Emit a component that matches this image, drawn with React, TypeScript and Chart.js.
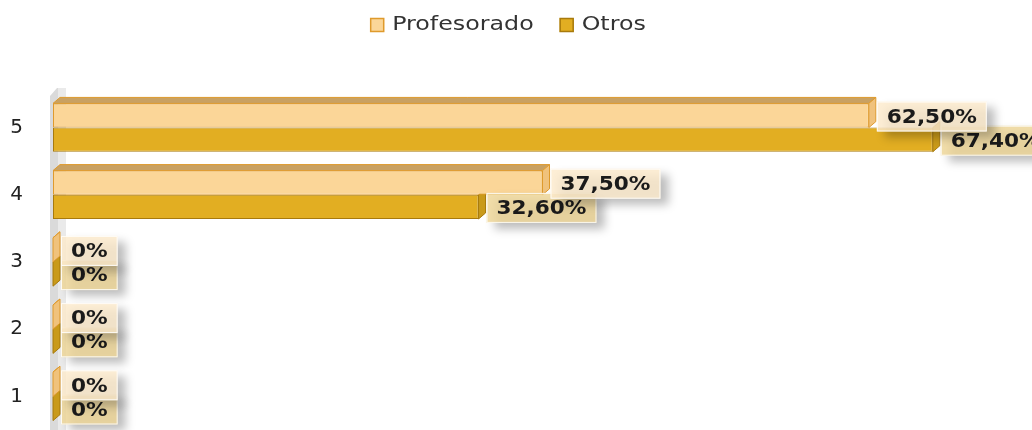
import React, { useEffect, useRef } from 'react';
import { Chart, registerables } from 'chart.js';

Chart.register(...registerables);

const categories = ['5', '4', '3', '2', '1'];
const seriesNames = ['Profesorado', 'Otros'];
const profesorado = [62.5, 37.5, 0, 0, 0];
const otros = [67.4, 32.6, 0, 0, 0];
const xMax = 75;

const fmt = (v: number) => (v === 0 ? '0%' : v.toFixed(2).replace('.', ',') + '%');

const STY = [
  { front: '#FBD698', border: '#DF9A2C', top: '#C9A162', side: '#F0C27C', box: 'rgba(252,234,204,0.82)' },
  { front: '#E2AE22', border: '#A87A0C', top: '#B88A14', side: '#C99A1A', box: 'rgba(238,214,150,0.82)' },
];
const DX = 7;
const DY = 6;

function poly(ctx: CanvasRenderingContext2D, pts: number[][], fill: string, stroke?: string) {
  ctx.beginPath();
  ctx.moveTo(pts[0][0], pts[0][1]);
  for (let i = 1; i < pts.length; i++) ctx.lineTo(pts[i][0], pts[i][1]);
  ctx.closePath();
  ctx.fillStyle = fill;
  ctx.fill();
  if (stroke) {
    ctx.strokeStyle = stroke;
    ctx.lineWidth = 1;
    ctx.stroke();
  }
}

const threeD = {
  id: 'threeD',
  beforeDatasetsDraw(chart: any) {
    const ctx = chart.ctx as CanvasRenderingContext2D;
    const a = chart.chartArea;
    ctx.save();
    poly(ctx, [[a.left - 3, a.top + 2], [a.left + 4, a.top - 6], [a.left + 13, a.top - 6], [a.left + 13, a.bottom], [a.left - 3, a.bottom]], '#DADADA');
    poly(ctx, [[a.left + 5, a.top - 6], [a.left + 13, a.top - 6], [a.left + 13, a.bottom], [a.left + 5, a.bottom]], '#EAEAEA');
    const meta = chart.getDatasetMeta(1);
    meta.data.forEach((el: any) => {
      const p = el.getProps(['x', 'y', 'base', 'height'], true);
      const t = p.y - p.height / 2;
      const b = p.y + p.height / 2;
      poly(ctx, [[p.x, t], [p.x + DX, t - DY], [p.x + DX, b - DY], [p.x, b]], STY[1].side, STY[1].border);
    });
    ctx.restore();
  },
  afterDatasetsDraw(chart: any) {
    const ctx = chart.ctx as CanvasRenderingContext2D;
    ctx.save();
    const meta = chart.getDatasetMeta(0);
    meta.data.forEach((el: any) => {
      const p = el.getProps(['x', 'y', 'base', 'height'], true);
      const t = p.y - p.height / 2;
      const b = p.y + p.height / 2;
      poly(ctx, [[p.base, t], [p.base + DX, t - DY], [p.x + DX, t - DY], [p.x, t]], STY[0].top, STY[0].border);
      poly(ctx, [[p.x, t], [p.x + DX, t - DY], [p.x + DX, b - DY], [p.x, b]], STY[0].side, STY[0].border);
    });
    const scaleX = 1.08;
    ctx.font = 'bold 20px "DejaVu Sans"';
    ctx.textBaseline = 'middle';
    ctx.textAlign = 'left';
    [1, 0].forEach((di) => {
      const m = chart.getDatasetMeta(di);
      const vals = chart.data.datasets[di].data as number[];
      m.data.forEach((el: any, i: number) => {
        const p = el.getProps(['x', 'y', 'base', 'height'], true);
        const txt = fmt(vals[i]);
        const w = ctx.measureText(txt).width * scaleX;
        const bx = p.x + 8;
        const by = p.y - 14;
        const bw = w + 20;
        const bh = 30;
        ctx.save();
        ctx.shadowColor = 'rgba(0,0,0,0.32)';
        ctx.shadowBlur = 10;
        ctx.shadowOffsetX = 8;
        ctx.shadowOffsetY = 6;
        ctx.fillStyle = STY[di].box;
        ctx.fillRect(bx, by, bw, bh);
        ctx.restore();
        ctx.strokeStyle = 'rgba(255,255,255,0.85)';
        ctx.lineWidth = 1;
        ctx.strokeRect(bx + 0.5, by + 0.5, bw - 1, bh - 1);
        ctx.save();
        ctx.translate(bx + 10, p.y + 2);
        ctx.scale(scaleX, 1);
        ctx.fillStyle = '#1a1a1a';
        ctx.fillText(txt, 0, 0);
        ctx.restore();
      });
    });
    ctx.restore();
  },
  afterDraw(chart: any) {
    const ctx = chart.ctx as CanvasRenderingContext2D;
    ctx.save();
    const sx = 1.25;
    ctx.font = '19px "DejaVu Sans"';
    ctx.textBaseline = 'middle';
    ctx.textAlign = 'left';
    const widths = seriesNames.map((n) => ctx.measureText(n).width * sx);
    const box = 14;
    const gap = 8;
    const itemGap = 26;
    const total = widths.reduce((s, w) => s + box + gap + w, 0) + itemGap * (seriesNames.length - 1);
    let x = chart.width / 2 - total / 2 - 8;
    const cy = 25;
    seriesNames.forEach((n, i) => {
      ctx.fillStyle = STY[i].front;
      ctx.fillRect(x, cy - box / 2, box, box);
      ctx.strokeStyle = STY[i].border;
      ctx.lineWidth = 1.5;
      ctx.strokeRect(x + 0.5, cy - box / 2 + 0.5, box - 1, box - 1);
      x += box + gap;
      ctx.save();
      ctx.translate(x, cy);
      ctx.scale(sx, 1);
      ctx.fillStyle = '#333333';
      ctx.fillText(n, 0, 0);
      ctx.restore();
      x += widths[i] + itemGap;
    });
    ctx.restore();
  },
};

export default function App() {
  const ref = useRef<HTMLCanvasElement | null>(null);
  useEffect(() => {
    document.body.style.margin = '0';
    document.body.style.overflow = 'hidden';
    if (!ref.current) return;
    const chart = new Chart(ref.current, {
      type: 'bar',
      data: {
        labels: categories,
        datasets: [
          {
            label: seriesNames[0],
            data: profesorado,
            backgroundColor: STY[0].front,
            borderColor: STY[0].border,
            borderWidth: 1,
            borderSkipped: false,
          },
          {
            label: seriesNames[1],
            data: otros,
            backgroundColor: STY[1].front,
            borderColor: STY[1].border,
            borderWidth: 1,
            borderSkipped: false,
          },
        ],
      },
      options: {
        indexAxis: 'y',
        animation: false,
        responsive: false,
        maintainAspectRatio: false,
        devicePixelRatio: 1,
        layout: { padding: { top: 94, right: 0, bottom: 0, left: 0 } },
        datasets: { bar: { categoryPercentage: 0.72, barPercentage: 1 } },
        plugins: { legend: { display: false }, tooltip: { enabled: false } },
        scales: {
          x: { display: false, min: 0, max: xMax },
          y: {
            grid: { display: false, drawTicks: false },
            border: { display: false },
            ticks: { color: '#222222', padding: 30, font: { family: '"DejaVu Sans"', size: 20 } },
            afterFit: (s: any) => {
              s.width = 53;
              s.paddingTop = 0;
              s.paddingBottom = 0;
            },
          },
        },
      },
      plugins: [threeD],
    } as any);
    return () => chart.destroy();
  }, []);
  return <canvas ref={ref} width={1032} height={430} style={{ display: 'block', width: 1032, height: 430 }} />;
}
